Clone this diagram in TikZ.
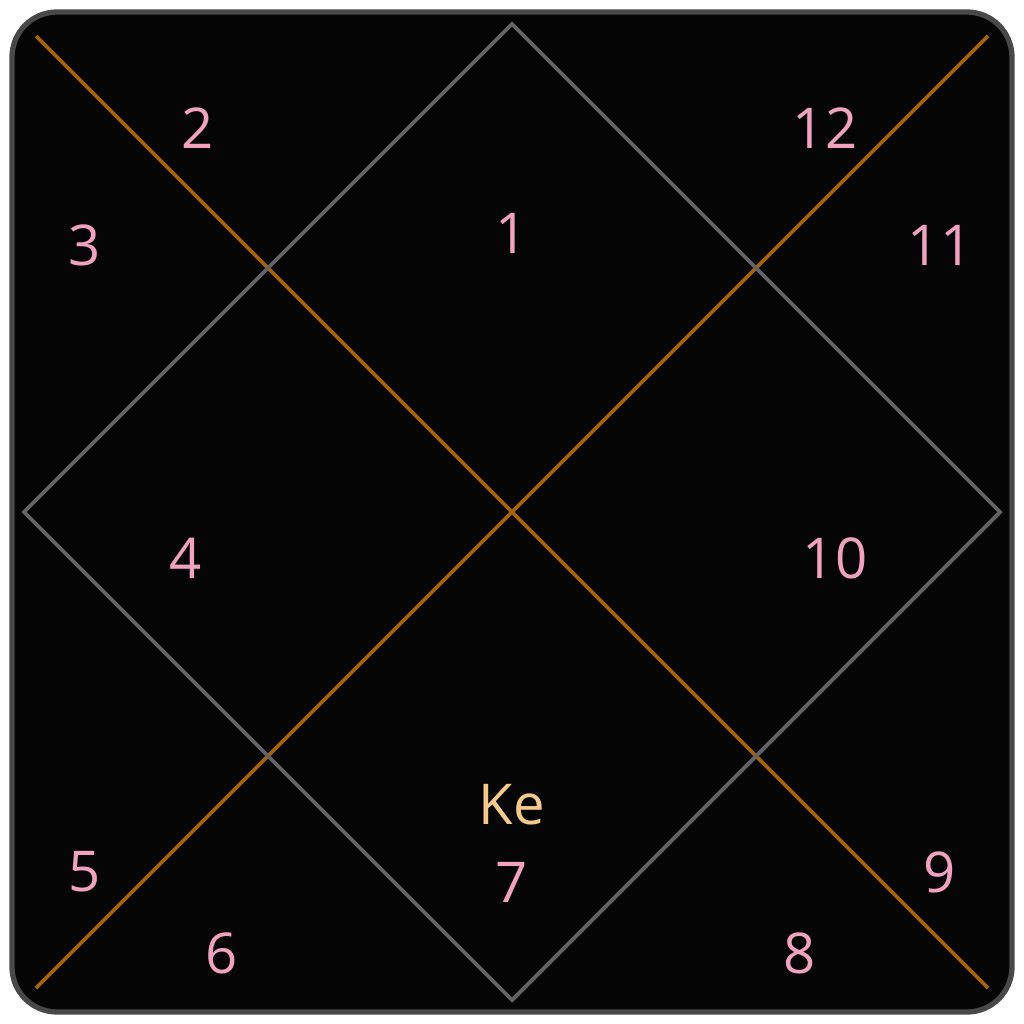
\documentclass[tikz,border=0pt]{standalone}
\usepackage{fontspec}
\setmainfont{Open Sans}
\usetikzlibrary{positioning}
\definecolor{chartbg}{HTML}{050505}
\definecolor{framegray}{HTML}{48484A}
\definecolor{diamgray}{HTML}{636366}
\definecolor{diagorange}{HTML}{A5620C}
\definecolor{housepink}{HTML}{F0A2BF}
\definecolor{planetgold}{HTML}{F5C98A}
\tikzset{
  house/.style={housepink,font=\fontsize{16}{18}\selectfont},
  planet/.style={planetgold,font=\fontsize{16}{18}\selectfont}
}
\begin{document}
\begin{tikzpicture}[x=0.01cm,y=-0.01cm]
\useasboundingbox (0,0) rectangle (1024,1024);
%\draw[] (0,0) grid (1024,1024);
\draw[framegray,fill=chartbg,line width=1.5pt,rounded corners=0.45cm] (12,12) rectangle (1012,1012);
\coordinate (tl) at (36,36);
\coordinate (tr) at (988,36);
\coordinate (bl) at (36,988);
\coordinate (br) at (988,988);
\coordinate (top) at (512,24);
\coordinate (right) at (1000,512);
\coordinate (bottom) at (512,1000);
\coordinate (left) at (24,512);
\draw[diagorange,line width=1.1pt] (tl) -- (br);
\draw[diagorange,line width=1.1pt] (tr) -- (bl);
\draw[diamgray,line width=1.1pt,line join=miter] (top) -- (right) -- (bottom) -- (left) -- cycle;
\node [house] (h1) at (512,233) {1};
\node [house] (h2) at (198,128) {2};
\node [house] (h3) at (85,245) {3};
\node [house] (h4) at (186,558) {4};
\node [house] (h5) at (85,872) {5};
\node [house] (h6) at (222,953) {6};
\node [house] (h7) at (512,882) {7};
\node [house] (h8) at (800,953) {8};
\node [house] (h9) at (940,872) {9};
\node [house] (h10) at (835,558) {10};
\node [house] (h11) at (940,245) {11};
\node [house] (h12) at (825,128) {12};
\node [planet] (ke) at (512,805) {Ke};
\end{tikzpicture}
\end{document}
